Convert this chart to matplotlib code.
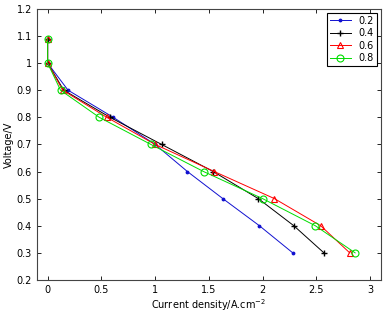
import matplotlib
matplotlib.use('Agg')
import matplotlib.pyplot as plt

# tensao (V) comum a todas as curvas
voltagem = [1.09, 1.0, 0.9, 0.8, 0.7, 0.6, 0.5, 0.4, 0.3]

# densidade de corrente (A/cm2) para cada serie
corrente_02 = [0.0, 0.0, 0.19, 0.61, 1.0, 1.30, 1.63, 1.97, 2.28]
corrente_04 = [0.0, 0.0, 0.15, 0.58, 1.06, 1.54, 1.96, 2.29, 2.57]
corrente_06 = [0.0, 0.0, 0.14, 0.55, 1.0, 1.55, 2.11, 2.54, 2.81]
corrente_08 = [0.0, 0.0, 0.12, 0.48, 0.96, 1.45, 2.0, 2.49, 2.86]
rotulos = ['0.2', '0.4', '0.6', '0.8']

fig = plt.figure(figsize=(3.84, 3.16), dpi=100)
ax = fig.add_axes([0.096, 0.114, 0.896, 0.858])

ax.plot(corrente_02, voltagem, color='#1010d0', marker='.', markersize=3.5, lw=0.7, label=rotulos[0])
ax.plot(corrente_04, voltagem, color='black', marker='+', markersize=5, lw=0.7, label=rotulos[1])
ax.plot(corrente_06, voltagem, color='red', marker='^', markersize=5, mfc='none', mew=0.8, lw=0.7, label=rotulos[2])
ax.plot(corrente_08, voltagem, color='#00dd00', marker='o', markersize=5, mfc='none', mew=0.8, lw=0.7, label=rotulos[3])

ax.set_xlim(-0.1, 3.1)
ax.set_ylim(0.2, 1.2)
ax.set_xticks([0, 0.5, 1, 1.5, 2, 2.5, 3])
ax.set_xticklabels(['0', '0.5', '1', '1.5', '2', '2.5', '3'])
ax.set_yticks([0.2, 0.3, 0.4, 0.5, 0.6, 0.7, 0.8, 0.9, 1.0, 1.1, 1.2])
ax.set_yticklabels(['0.2', '0.3', '0.4', '0.5', '0.6', '0.7', '0.8', '0.9', '1', '1.1', '1.2'])
ax.tick_params(direction='in', top=True, right=True, labelsize=7, length=3, width=0.6)
for s in ax.spines.values():
    s.set_linewidth(0.8)
    s.set_color('#444444')

ax.set_xlabel('Current density/A.cm$^{-2}$', fontsize=7, labelpad=2)
ax.set_ylabel('Voltage/V', fontsize=7, labelpad=2)

leg = ax.legend(loc='upper right', fontsize=7, fancybox=False, framealpha=1,
                edgecolor='black', handlelength=2.2, borderpad=0.3, labelspacing=0.25,
                borderaxespad=0.4)
leg.get_frame().set_linewidth(0.8)

plt.savefig('out.png', dpi=100)
